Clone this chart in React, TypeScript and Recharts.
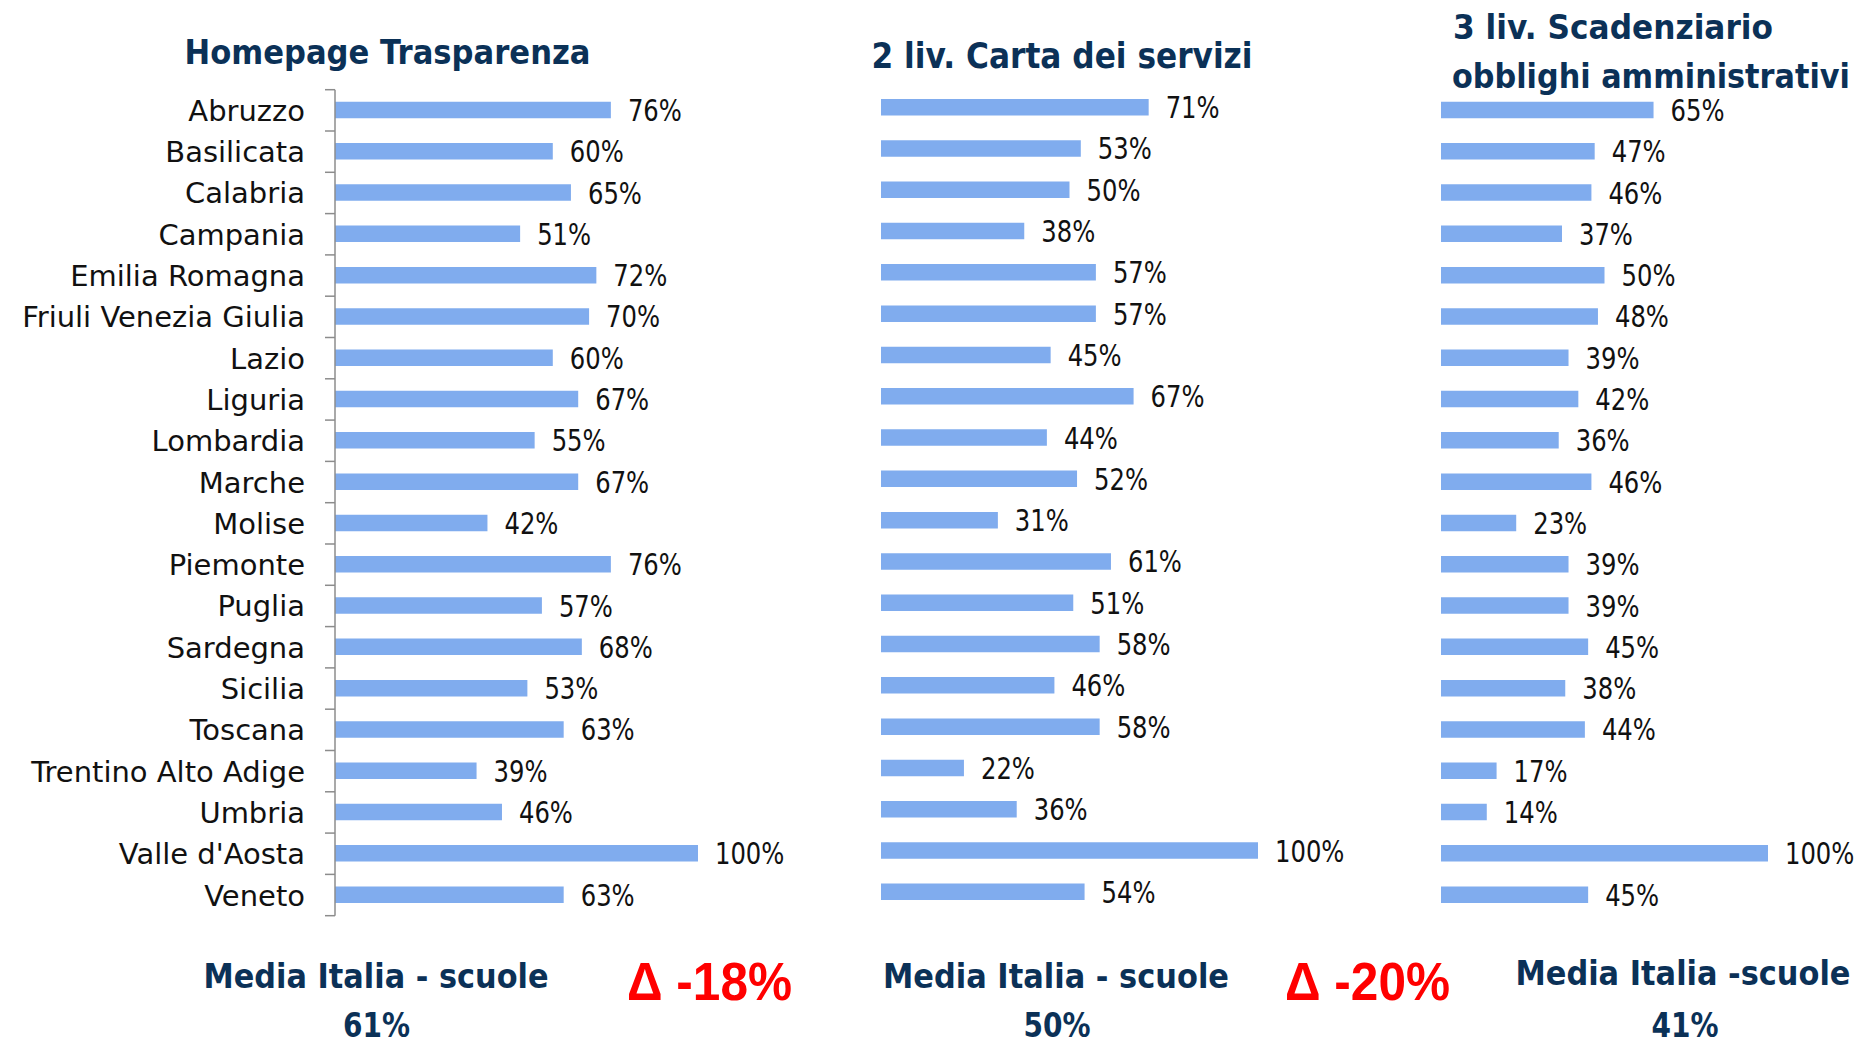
import React from 'react';
import { BarChart, Bar, XAxis, YAxis, LabelList } from 'recharts';

// regions (same order in all three panels)
const regions = [
  'Abruzzo', 'Basilicata', 'Calabria', 'Campania', 'Emilia Romagna',
  'Friuli Venezia Giulia', 'Lazio', 'Liguria', 'Lombardia', 'Marche',
  'Molise', 'Piemonte', 'Puglia', 'Sardegna', 'Sicilia', 'Toscana',
  'Trentino Alto Adige', 'Umbria', "Valle d'Aosta", 'Veneto',
];

// % of schools, per panel
const homepageTrasparenza = [76, 60, 65, 51, 72, 70, 60, 67, 55, 67, 42, 76, 57, 68, 53, 63, 39, 46, 100, 63];
const cartaServizi = [71, 53, 50, 38, 57, 57, 45, 67, 44, 52, 31, 61, 51, 58, 46, 58, 22, 36, 100, 54];
const scadenziario = [65, 47, 46, 37, 50, 48, 39, 42, 36, 46, 23, 39, 39, 45, 38, 44, 17, 14, 100, 45];

const panelTitles = ['Homepage Trasparenza', '2 liv. Carta dei servizi'];
const panel3Title = ['3 liv. Scadenziario', 'obblighi amministrativi'];
const mediaLabels = ['Media Italia - scuole', 'Media Italia - scuole', 'Media Italia -scuole'];
const mediaItalia = [61, 50, 41];
const deltas = [-18, -20];

const BAR_COLOR = '#80ACEE';
const NAVY = '#0B3157';
const AXIS_GRAY = '#8c8c8c';
const BAND = 41.3;
const PLOT_H = BAND * regions.length;

const rows = (values: number[]) => regions.map((region, i) => ({ region, value: values[i] }));

const RegionTick = (props: any) => {
  const { y, payload, index, axisX } = props;
  const isLast = index === regions.length - 1;
  return (
    <g>
      <line x1={axisX - 10} x2={axisX} y1={y - BAND / 2} y2={y - BAND / 2} stroke={AXIS_GRAY} strokeWidth={1.5} />
      {isLast && (
        <line x1={axisX - 10} x2={axisX} y1={y + BAND / 2} y2={y + BAND / 2} stroke={AXIS_GRAY} strokeWidth={1.5} />
      )}
      <text x={axisX - 30} y={y} dy={10.5} textAnchor="end" fontFamily="'DejaVu Sans', sans-serif" fontSize={29} fill="#111">
        {payload.value}
      </text>
    </g>
  );
};

// value labels are narrower than the category names in the original
const ValueLabel = (props: any) => {
  const vb = props.viewBox && props.viewBox.width !== undefined ? props.viewBox : props;
  const { x, y, width, height } = vb;
  return (
    <text
      transform={`translate(${x + width + 17} ${y + height / 2 + 11}) scale(0.9 1)`}
      fontFamily="'Liberation Sans Narrow', 'DejaVu Sans Condensed', 'Liberation Sans', sans-serif"
      fontSize={30}
      fill="#111"
    >
      {props.value}%
    </text>
  );
};

interface PanelProps {
  values: number[];
  left: number;
  top: number;
  plotWidth: number;
  right: number;
  axisWidth?: number;
}

const Panel = ({ values, left, top, plotWidth, right, axisWidth = 0 }: PanelProps) => (
  <div style={{ position: 'absolute', left, top: 0 }}>
    <BarChart
      width={axisWidth + plotWidth + right}
      height={top + PLOT_H + 20}
      data={rows(values)}
      layout="vertical"
      margin={{ top, right, bottom: 20, left: 0 }}
      barSize={16.5}
    >
      <XAxis type="number" domain={[0, 100]} hide />
      <YAxis
        type="category"
        dataKey="region"
        hide={!axisWidth}
        width={axisWidth}
        interval={0}
        tickLine={false}
        axisLine={{ stroke: AXIS_GRAY, strokeWidth: 1.5 }}
        tick={<RegionTick axisX={axisWidth} />}
      />
      <Bar dataKey="value" fill={BAR_COLOR} isAnimationActive={false}>
        <LabelList dataKey="value" content={<ValueLabel />} />
      </Bar>
    </BarChart>
  </div>
);

export default function App() {
  const bold = { fontFamily: "'DejaVu Sans', sans-serif", fontWeight: 'bold' as const, fill: NAVY };
  return (
    <div style={{ position: 'absolute', left: 0, top: 0, width: 1861, height: 1041, background: '#fff' }}>
      <Panel values={homepageTrasparenza} left={0} top={89.7} axisWidth={335} plotWidth={363} right={102} />
      <Panel values={cartaServizi} left={881} top={86.9} plotWidth={377} right={130} />
      <Panel values={scadenziario} left={1441} top={89.7} plotWidth={327} right={93} />

      <svg width={1861} height={1041} style={{ position: 'absolute', left: 0, top: 0, pointerEvents: 'none' }}>
        <text x={387.5} y={64} textAnchor="middle" fontSize={34} textLength={406} lengthAdjust="spacingAndGlyphs" {...bold}>
          {panelTitles[0]}
        </text>
        <text x={1062} y={68} textAnchor="middle" fontSize={35} textLength={381} lengthAdjust="spacingAndGlyphs" {...bold}>
          {panelTitles[1]}
        </text>
        <text x={1453} y={39} fontSize={33} textLength={320} lengthAdjust="spacingAndGlyphs" {...bold}>
          {panel3Title[0]}
        </text>
        <text x={1452} y={88} fontSize={33} textLength={398} lengthAdjust="spacingAndGlyphs" {...bold}>
          {panel3Title[1]}
        </text>

        <text x={376} y={988} textAnchor="middle" fontSize={33} textLength={345} lengthAdjust="spacingAndGlyphs" {...bold}>
          {mediaLabels[0]}
        </text>
        <text x={1056} y={988} textAnchor="middle" fontSize={33} textLength={346} lengthAdjust="spacingAndGlyphs" {...bold}>
          {mediaLabels[1]}
        </text>
        <text x={1683} y={985} textAnchor="middle" fontSize={33} textLength={335} lengthAdjust="spacingAndGlyphs" {...bold}>
          {mediaLabels[2]}
        </text>

        <text x={376.5} y={1037} textAnchor="middle" fontSize={34} textLength={67} lengthAdjust="spacingAndGlyphs" {...bold}>
          {mediaItalia[0]}%
        </text>
        <text x={1057} y={1037} textAnchor="middle" fontSize={34} textLength={67} lengthAdjust="spacingAndGlyphs" {...bold}>
          {mediaItalia[1]}%
        </text>
        <text x={1685} y={1037} textAnchor="middle" fontSize={34} textLength={67} lengthAdjust="spacingAndGlyphs" {...bold}>
          {mediaItalia[2]}%
        </text>

        <text x={709.5} y={1000} textAnchor="middle" fontSize={54} fontWeight="bold" fill="#FF0000" fontFamily="'Liberation Sans', Arial, sans-serif" textLength={165} lengthAdjust="spacingAndGlyphs">
          Δ {deltas[0]}%
        </text>
        <text x={1367.5} y={1000} textAnchor="middle" fontSize={54} fontWeight="bold" fill="#FF0000" fontFamily="'Liberation Sans', Arial, sans-serif" textLength={165} lengthAdjust="spacingAndGlyphs">
          Δ {deltas[1]}%
        </text>
      </svg>
    </div>
  );
}
